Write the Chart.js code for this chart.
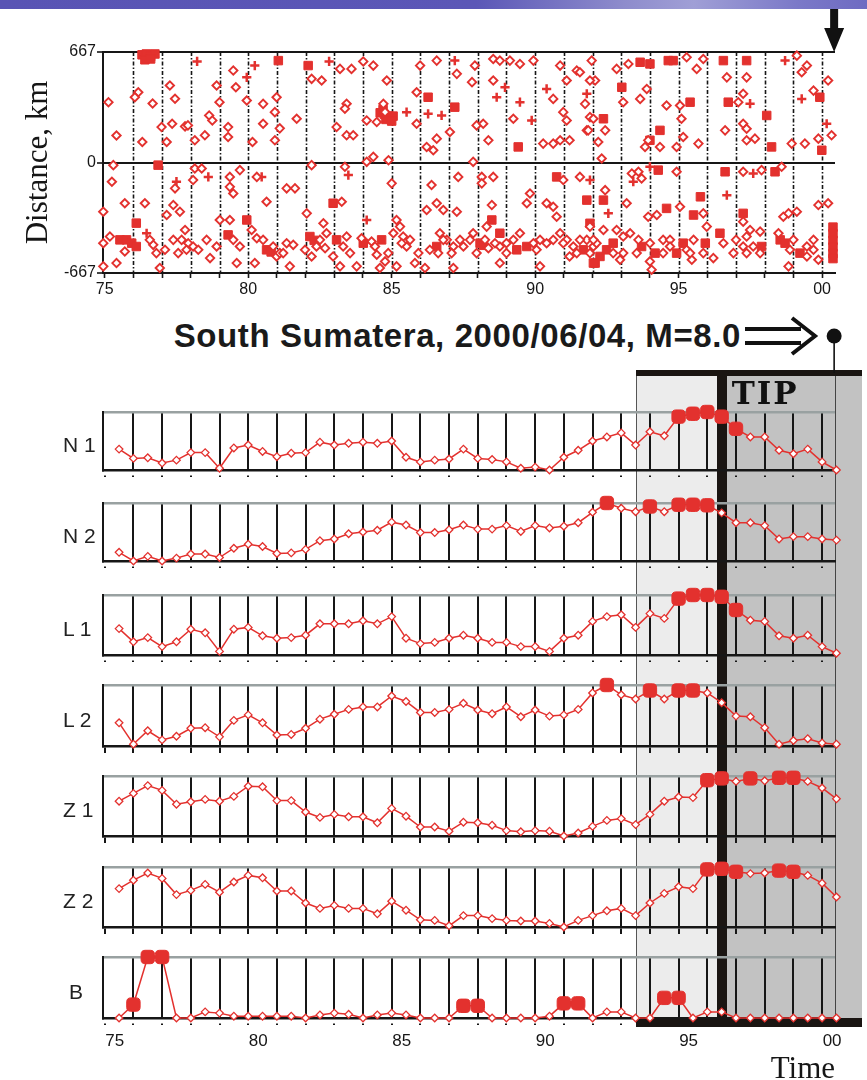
<!DOCTYPE html>
<html>
<head>
<meta charset="utf-8">
<script src="https://cdn.jsdelivr.net/npm/chart.js@4.4.1/dist/chart.umd.min.js"></script>
<style>
  html, body { margin: 0; padding: 0; background: #fff; }
  #page { position: relative; width: 867px; height: 1080px; overflow: hidden; background: #fff;
          font-family: "Liberation Sans", Arial, sans-serif; color: #1a1a1a; }
  #page canvas { position: absolute; left: 0; z-index: 2; }
  .abs { position: absolute; }
</style>
</head>
<body>
<div id="page"></div>
<script>
// ---------------- DATA ----------------
const tickYears = [75,76,77,78,79,80,81,82,83,84,85,86,87,88,89,90,91,92,93,94,95,96,97,98,99,100];
const labelYears = [75,80,85,90,95,100];
const labelTexts = ['75','80','85','90','95','00'];
const distanceTicks = [-667, 0, 667];

const eventYear = 100.42;              // South Sumatera, 2000/06/04
const tipStartYear = 96.5;             // TIP declared
const preTipYear = 93.5;               // light-grey pre-alarm start

// Earthquake epicentres: [year, distance km]
const openQuakes = [
 [75.13,364],[75.41,163],[76.17,424],[76.05,394],[76.67,356],[76.31,124],[76.98,214],[77.16,124],[77.27,465],[77.45,385],[77.35,234],[77.8,218],[77.9,224],[78.14,134],[78.49,164],[78.64,284],[78.75,254],[78.9,465],[79.0,364],[79.3,214],[79.3,154],[79.48,555],[79.57,454],[79.95,374],[80.52,354],[80.52,234],[80.15,124],[80.93,134],[80.99,394],[81.1,206],[80.93,304],[81.69,264],
 [75.3,-16],[75.25,-116],[74.95,-297],[75.7,-246],[76.4,-246],[75.18,-447],[74.95,-487],[75.7,-537],[75.41,-607],[74.95,-627],[76.69,-497],[76.8,-547],[76.92,-637],[77.45,-156],[77.39,-257],[77.16,-317],[77.62,-297],[77.1,-527],[77.39,-467],[77.68,-467],[77.91,-487],[78.08,-507],[77.8,-407],[77.56,-547],[78.14,-36],[78.38,-36],[78.08,-106],[78.26,-527],[78.67,-577],[79.01,-347],[79.36,-347],[79.36,-87],[79.36,-147],[79.48,-187],[79.71,-46],[80.12,-407],[80.3,-457],[79.6,-607],[80.23,-607],[80.64,-237],[80.3,-87],[80.99,-567],[81.1,-547],[81.34,-487],[81.57,-497],[81.34,-156],[81.63,-156],[81.45,-627],
 [76.57,-467],[77.85,-527],[78.55,-467],[78.9,-507],[79.48,-467],[79.71,-507],[80.52,-467],[80.87,-507],[81.22,-547],
 [82.21,505],[82.56,495],[83.2,565],[83.6,565],[83.43,355],[83.37,325],[83.43,164],[83.66,164],[83.08,214],[84.01,610],[84.36,585],[84.13,254],[84.48,244],[84.77,304],[84.71,354],[84.83,495],[84.89,14],[84.36,34],[84.13,4],[85.99,585],[85.87,424],[85.87,234],[86.22,94],[86.45,74],[86.57,144],[86.57,615],[87.27,535],[87.03,184],[87.8,485],[87.9,585],[87.96,224],[88.19,234],[88.37,134],[88.54,625],[88.77,615],[89.12,615],[89.47,595],[88.54,495],[89.24,264],[89.94,615],[90.63,384],[90.28,114],[90.63,114],[90.87,134],[91.2,134],[91.1,495],[90.87,585],[91.45,555],[90.98,304],[91.1,254],[91.8,194],[91.91,274],[91.74,354],[91.97,615],[92.09,495],
 [82.21,-16],[83.37,-26],[83.26,-237],[82.04,-307],[82.62,-367],[82.73,-427],[82.38,-507],[82.21,-567],[83.31,-507],[82.96,-567],[83.2,-627],[83.78,-627],[83.95,-457],[84.3,-477],[84.48,-557],[84.77,-597],[84.59,-637],[85.0,-126],[85.17,-347],[85.29,-387],[85.4,-447],[85.52,-507],[85.06,-427],[85.17,-627],[85.81,-607],[86.16,-637],[86.39,-136],[86.22,-287],[86.57,-246],[86.8,-287],[87.27,-297],[87.32,-87],[86.33,-527],[86.68,-427],[86.92,-467],[87.15,-507],[87.09,-547],[87.38,-467],[87.15,-637],[87.84,4],[88.14,-87],[88.54,-87],[88.14,-126],[88.49,-257],[88.31,-387],[87.84,-427],[88.37,-517],[88.77,-507],[89.0,-547],[88.77,-607],[89.24,-467],[89.47,-427],[90.05,-527],[90.17,-467],[90.4,-487],[89.82,-187],[89.71,-246],[90.4,-246],[90.63,-267],[90.75,-327],[90.98,-106],[90.87,-427],[91.1,-467],[91.33,-507],[91.2,-567],[91.45,-547],[91.91,-387],[91.8,-467],[92.03,-507],[90.17,-627],
 [81.98,-527],[82.5,-467],[82.68,-517],[83.43,-447],[83.55,-547],[84.42,-507],[84.88,-547],[85.35,-487],[85.64,-467],[85.93,-547],[86.62,-547],[86.8,-467],[87.5,-507],[87.73,-467],[87.96,-547],[88.25,-467],[88.6,-487],[89.0,-487],[89.94,-487],[90.63,-467],[90.98,-487],[91.56,-467],[91.91,-547],
 [91.56,545],[91.91,495],[92.03,264],[91.85,194],[92.44,194],[92.2,124],[92.32,24],[92.84,565],[93.25,595],[93.07,364],[93.66,384],[93.89,444],[93.94,134],[93.83,94],[94.35,94],[94.58,344],[95.05,344],[95.1,264],[95.16,154],[94.93,94],[95.63,565],[95.28,635],[95.69,114],[95.86,625],[96.68,514],[97.08,364],[96.62,194],[97.37,514],[97.25,415],[97.25,234],[97.37,204],[97.37,134],[97.66,144],[99.12,645],[99.47,585],[99.29,545],[99.7,434],[99.4,114],[98.94,114],[99.87,144],[100.33,164],[100.21,495],
 [91.56,-87],[92.44,-167],[92.38,-407],[92.14,-487],[92.72,-547],[92.96,-587],[92.84,-407],[93.07,-447],[93.31,-427],[93.6,-467],[94.0,-487],[94.0,-597],[94.06,-647],[93.19,-246],[93.37,-66],[93.6,-56],[93.71,-96],[93.94,-327],[94.24,-317],[94.93,-56],[94.46,-467],[94.7,-467],[95.28,-527],[95.46,-587],[95.52,-467],[95.05,-267],[95.86,-307],[95.98,-387],[95.86,-547],[96.21,-577],[96.56,-487],[96.91,-547],[97.25,-56],[97.89,-46],[97.25,-357],[97.49,-407],[97.37,-447],[97.25,-507],[97.37,-547],[97.84,-417],[97.84,-547],[98.59,-26],[98.48,-427],[98.65,-327],[98.83,-307],[99.12,-297],[98.88,-527],[99.47,-507],[99.7,-467],[99.87,-587],[98.83,-627],[99.87,-257],[100.21,-246],
 [92.03,-467],[93.07,-547],[93.54,-547],[94.46,-547],[94.7,-507],[95.4,-547],[97.0,-467],[97.6,-507],[99.0,-467],[99.47,-567],[99.7,-527]
];
const plusQuakes = [
 [78.22,610],[79.95,514],[82.82,610],[85.52,304],[86.27,294],[86.74,284],[87.2,615],[88.66,394],[88.95,454],[89.47,364],[89.88,254],[90.4,444],[91.8,415],[97.49,355],[98.71,615],[99.29,384],[100.16,234],[80.23,585],
 [76.46,-427],[77.5,-116],[83.49,-76],[84.13,-347],[91.91,-106],[92.55,-307],[93.42,-116],[94.0,-26],[96.68,-197],[97.6,-66],[80.47,-87],[78.61,-87]
];
const filledQuakes = [
 [76.3,650],[76.45,655],[76.6,640],[76.75,655],[76.4,620],[76.6,625],[81.05,615],[82.09,585],[84.6,300],[84.75,290],[84.9,280],[85.05,280],[84.8,260],[85.0,250],[84.7,320],[86.27,394],[87.2,334],[89.41,94],[92.38,264],
 [93.66,605],[94.0,595],[93.02,454],[94.0,134],[94.35,194],[94.64,615],[94.81,615],[95.4,364],[96.56,615],[96.73,364],[97.37,615],[98.07,284],[98.24,94],[99.92,394],[99.99,74],
 [76.1,-366],[75.53,-467],[75.76,-467],[75.94,-487],[76.1,-507],[76.86,-16],[79.3,-437],[79.95,-347],[80.64,-527],[80.8,-540],[82.96,-246],[82.15,-447],[82.3,-470],[83.08,-467],[84.01,-487],[84.65,-467],[86.57,-507],[88.49,-347],[88.77,-427],[88.08,-487],[88.2,-500],[89.36,-527],[89.71,-507],[90.75,-87],[92.09,-607],
 [91.8,-227],[92.38,-227],[91.91,-367],[91.68,-527],[92.26,-567],[92.49,-527],[92.72,-487],[92.03,-607],[93.71,-507],[94.18,-547],[94.29,-46],[94.58,-277],[94.93,-547],[95.16,-487],[95.52,-317],[95.76,-207],[95.93,-487],[96.44,-427],[96.62,-56],[97.25,-307],[97.89,-507],[98.36,-56],[98.54,-467],[98.71,-487],[99.23,-547],
 [100.38,-390],[100.38,-430],[100.38,-470],[100.38,-510],[100.38,-550],[100.38,-580]
];

// Functions of the M8 algorithm (normalised 0..1 within each panel), every half year
const years = [75.5,76,76.5,77,77.5,78,78.5,79,79.5,80,80.5,81,81.5,82,82.5,83,83.5,84,84.5,85,85.5,86,86.5,87,87.5,88,88.5,89,89.5,90,90.5,91,91.5,92,92.5,93,93.5,94,94.5,95,95.5,96,96.5,97,97.5,98,98.5,99,99.5,100,100.5];
const n1Values = [.36,.20,.21,.12,.17,.30,.30,.03,.38,.43,.32,.23,.29,.30,.48,.43,.46,.48,.46,.50,.22,.14,.17,.19,.36,.20,.18,.14,.03,.05,0,.22,.34,.50,.57,.64,.43,.66,.59,.92,.97,1,.92,.71,.57,.57,.34,.28,.36,.14,0];
const n2Values = [.15,0,.08,0,.05,.12,.12,.06,.22,.29,.25,.13,.14,.20,.35,.38,.47,.50,.53,.67,.62,.49,.49,.54,.62,.55,.55,.61,.51,.61,.57,.60,.66,.84,1,.91,.85,.94,.85,.97,.97,.96,.83,.66,.66,.61,.38,.42,.42,.38,.36];
const l1Values = [.44,.22,.29,.14,.22,.43,.37,.06,.43,.46,.32,.28,.29,.33,.52,.52,.52,.57,.52,.64,.28,.19,.21,.28,.33,.28,.21,.21,.14,.14,.06,.28,.33,.56,.64,.67,.46,.69,.61,.94,1,1,.97,.75,.58,.56,.32,.28,.33,.14,.03];
const l2Values = [.38,.03,.25,.10,.16,.29,.30,.15,.42,.51,.38,.18,.19,.29,.44,.52,.60,.64,.64,.82,.73,.55,.55,.60,.70,.59,.53,.64,.48,.59,.49,.51,.60,.87,1,.84,.77,.91,.77,.91,.91,.87,.71,.49,.48,.30,.03,.09,.12,.05,.03];
const z1Values = [.58,.71,.84,.76,.53,.57,.61,.58,.66,.83,.82,.59,.59,.40,.31,.36,.32,.32,.22,.46,.33,.15,.15,.08,.23,.22,.18,.09,.07,.09,.08,0,.05,.16,.26,.29,.19,.36,.58,.65,.64,.93,.96,.91,.96,.92,.97,.97,.91,.80,.62];
const z2Values = [.64,.78,.90,.81,.54,.61,.71,.58,.75,.86,.82,.60,.60,.40,.31,.36,.31,.31,.22,.43,.28,.12,.11,.02,.19,.19,.14,.11,.10,.10,.06,0,.11,.19,.27,.31,.19,.40,.56,.67,.64,.96,.97,.92,.89,.90,.94,.92,.86,.73,.50];
const bValues  = [0,.22,1,1,0,0,.10,.08,.03,.03,.03,.03,.03,0,.05,.08,.06,0,.05,.08,.05,0,0,0,.20,.20,0,0,0,0,.03,.24,.24,0,.10,.10,0,0,.33,.33,0,.10,.10,0,0,0,0,0,0,0,0];

// Half-years where the function is "very large" (filled markers)
const n1Alarms = [95,95.5,96,96.5,97];
const n2Alarms = [92.5,94,95,95.5,96];
const l1Alarms = [95,95.5,96,96.5,97];
const l2Alarms = [92.5,94,95,95.5];
const z1Alarms = [96,96.5,97.5,98.5,99];
const z2Alarms = [96,96.5,97,98.5,99];
const bAlarms  = [76,76.5,77,87.5,88,91,91.5,94.5,95];

const panelNames = ['N 1','N 2','L 1','L 2','Z 1','Z 2','B'];

// ---------------- LAYOUT / STYLE ----------------
const RED = '#e3312e';
const INK = '#161616';
const X_MIN = 74.94, X_MAX = 100.45;
const PAGE_W = 867, PLOT_LEFT = 103, PLOT_RIGHT = 835;
const panelTops    = [412, 503, 595, 685, 776, 867, 957];
const panelBottoms = [470, 561, 655, 746, 836, 927, 1018];
const panelDotTicks = [true, true, true, false, false, false, true];
const panelLabelLeft = [63, 63, 63, 63, 63, 63, 69];

const page = document.getElementById('page');
function el(tag, css, html) {
  const e = document.createElement(tag);
  e.className = 'abs';
  Object.assign(e.style, css);
  if (html !== undefined) e.innerHTML = html;
  page.appendChild(e);
  return e;
}
function yearLabel(v) {
  const k = labelYears.indexOf(v);
  return k >= 0 ? labelTexts[k] : '';
}
function setYearTicks(s) { s.ticks = tickYears.map(v => ({ value: v })); }

// top blue strip
el('div', { left: '0px', top: '0px', width: PAGE_W + 'px', height: '9px', zIndex: 5,
  background: 'linear-gradient(90deg,#5954b4 0%,#5b57b7 55%,#8e8ccc 72%,#a09fd6 80%,#7b79c8 92%,#6e6bc2 100%)' });

// ---------------- TOP: distance-time scatter ----------------
const dashedYears = {
  id: 'dashedYears',
  beforeDatasetsDraw(chart) {
    const { ctx, chartArea, scales } = chart;
    ctx.save();
    ctx.strokeStyle = INK; ctx.lineWidth = 1.6; ctx.setLineDash([4, 2, 1.5, 2]);
    tickYears.filter(v => v > 75).forEach(v => {
      const px = Math.round(scales.x.getPixelForValue(v)) + 0.5;
      ctx.beginPath(); ctx.moveTo(px, chartArea.top); ctx.lineTo(px, chartArea.bottom); ctx.stroke();
    });
    ctx.restore();
  }
};

const topCanvas = document.createElement('canvas');
topCanvas.width = PAGE_W; topCanvas.height = 270; topCanvas.style.top = '40px';
page.appendChild(topCanvas);
const toPts = arr => arr.map(p => ({ x: p[0], y: p[1] }));
const quakeChart = new Chart(topCanvas, {
  type: 'scatter',
  data: { datasets: [
    { data: toPts(openQuakes), pointStyle: 'rectRot', pointRadius: 4.2, pointBorderWidth: 1.9,
      pointBorderColor: RED, pointBackgroundColor: '#fff', clip: false },
    { data: toPts(plusQuakes), pointStyle: 'cross', pointRadius: 4.6, pointBorderWidth: 2.5,
      pointBorderColor: RED, pointBackgroundColor: RED, clip: false },
    { data: toPts(filledQuakes), pointStyle: 'rect', pointRadius: 6, pointBorderWidth: 1,
      pointBorderColor: RED, pointBackgroundColor: RED, clip: false }
  ] },
  options: {
    responsive: false, animation: false, devicePixelRatio: 1,
    layout: { padding: { top: 12, left: 0, right: PAGE_W - PLOT_RIGHT, bottom: 0 } },
    plugins: { legend: { display: false }, tooltip: { enabled: false } },
    scales: {
      x: {
        type: 'linear', min: X_MIN, max: X_MAX,
        afterBuildTicks: setYearTicks,
        ticks: { autoSkip: false, maxRotation: 0, callback: v => yearLabel(v), color: INK,
                 font: { family: '"Liberation Sans", Arial', size: 16 }, padding: 2, includeBounds: false },
        grid: { drawOnChartArea: false, drawTicks: true, tickLength: 5, tickColor: INK, tickWidth: 1.6 },
        border: { color: INK, width: 2 },
        afterFit: s => { s.height = 37; }
      },
      y: {
        min: -667, max: 667,
        afterBuildTicks: s => { s.ticks = distanceTicks.map(v => ({ value: v })); },
        ticks: { callback: v => String(v), color: INK, font: { family: '"Liberation Sans", Arial', size: 16 }, padding: 1 },
        grid: { color: INK, lineWidth: 2, tickLength: 6, tickWidth: 1.6 },
        border: { color: INK, width: 2 },
        title: { display: true, text: 'Distance, km', color: INK,
                 font: { family: '"Liberation Serif", "Times New Roman", serif', size: 31 }, padding: { top: 20 } },
        afterFit: s => { s.width = PLOT_LEFT; }
      }
    }
  },
  plugins: [dashedYears]
});

// ---------------- LOWER PANELS ----------------
const panelValues = [n1Values, n2Values, l1Values, l2Values, z1Values, z2Values, bValues];
const panelAlarms = [n1Alarms, n2Alarms, l1Alarms, l2Alarms, z1Alarms, z2Alarms, bAlarms];

function buildPanel(i) {
  const isLast = i === panelNames.length - 1;
  const padTop = 10;
  const axisH = isLast ? 70 : 12;
  const c = document.createElement('canvas');
  c.width = PAGE_W;
  c.height = padTop + (panelBottoms[i] - panelTops[i]) + axisH;
  c.style.top = (panelTops[i] - padTop) + 'px';
  page.appendChild(c);
  const vals = panelValues[i];
  const alarm = years.map(y => panelAlarms[i].includes(y));
  return new Chart(c, {
    type: 'line',
    data: { datasets: [{
      data: years.map((x, j) => ({ x: x, y: vals[j] })),
      borderColor: RED, borderWidth: 1.5, tension: 0, clip: false, fill: false,
      pointStyle: alarm.map(a => a ? 'rectRounded' : 'rectRot'),
      pointRadius: alarm.map(a => a ? 7.8 : 3.8),
      pointBorderWidth: alarm.map(a => a ? 1 : 1.3),
      pointBorderColor: RED,
      pointBackgroundColor: alarm.map(a => a ? RED : '#fff')
    }] },
    options: {
      responsive: false, animation: false, devicePixelRatio: 1,
      layout: { padding: { top: padTop, left: 0, right: PAGE_W - PLOT_RIGHT, bottom: 0 } },
      plugins: { legend: { display: false }, tooltip: { enabled: false } },
      scales: {
        x: {
          type: 'linear', min: X_MIN, max: X_MAX,
          afterBuildTicks: setYearTicks,
          ticks: { display: isLast, autoSkip: false, maxRotation: 0, callback: v => yearLabel(v),
                   color: INK, font: { family: '"Liberation Sans", Arial', size: 17 }, padding: 6,
                   labelOffset: 10, includeBounds: false },
          grid: { color: ctx => (ctx.tick && ctx.tick.value === 75) ? 'rgba(0,0,0,0)' : INK,
                  lineWidth: 2, tickColor: INK, tickWidth: 2, tickLength: 7,
                  tickBorderDash: panelDotTicks[i] ? [0, 4, 2.5, 30] : [] },
          border: { color: INK, width: 2.5 },
          title: isLast ? { display: true, text: 'Time', align: 'end', color: INK,
                   font: { family: '"Liberation Serif", "Times New Roman", serif', size: 31 },
                   padding: { top: 0, bottom: 0 } } : { display: false },
          afterFit: s => { s.height = axisH; }
        },
        y: {
          min: 0, max: 1,
          afterBuildTicks: s => { s.ticks = [{ value: 0 }, { value: 1 }]; },
          ticks: { display: false },
          grid: { color: ctx => (ctx.tick && ctx.tick.value === 1) ? '#99a1a1' : 'rgba(0,0,0,0)',
                  lineWidth: 2.5, drawTicks: false },
          border: { color: INK, width: 2 },
          afterFit: s => { s.width = PLOT_LEFT; }
        }
      }
    }
  });
}
const panelCharts = panelNames.map((n, i) => buildPanel(i));

panelNames.forEach((name, i) => {
  const mid = (panelTops[i] + panelBottoms[i]) / 2 + 4;
  el('div', { left: panelLabelLeft[i] + 'px', top: (mid - 13) + 'px', height: '26px', lineHeight: '26px',
    fontSize: '21px', color: '#222', whiteSpace: 'pre', zIndex: 3 }, name);
});

// ---------------- TIP shading & annotations (positions from the Chart.js x scale) ----------------
const xs = panelCharts[0].scales.x;
const px = v => xs.getPixelForValue(v);
const area = panelCharts[0].chartArea;
const shadeTop = 373, shadeBottom = 1025, shadeRight = 862;
const xPre = px(preTipYear), xTip = px(tipStartYear), xEvt = px(eventYear);

el('div', { left: xPre + 'px', top: shadeTop + 'px', width: (xTip - xPre) + 'px', height: (shadeBottom - shadeTop) + 'px',
  background: '#ececec', borderLeft: '1.5px solid #555', boxSizing: 'border-box', zIndex: 1 });
el('div', { left: xTip + 'px', top: shadeTop + 'px', width: (shadeRight - xTip) + 'px', height: (shadeBottom - shadeTop) + 'px',
  background: '#c2c2c2', zIndex: 1 });
el('div', { left: (area.right - 0.5) + 'px', top: shadeTop + 'px', width: '1.5px', height: (shadeBottom - shadeTop) + 'px',
  background: '#444', zIndex: 1 });
el('div', { left: (xTip - 5) + 'px', top: shadeTop + 'px', width: '10px', height: (shadeBottom - shadeTop) + 'px',
  background: '#1a1512', zIndex: 1 });
el('div', { left: xPre + 'px', top: (shadeTop - 3) + 'px', width: (shadeRight - xPre) + 'px', height: '6px',
  background: '#1a1512', zIndex: 3 });
el('div', { left: xPre + 'px', top: '1018px', width: (shadeRight - xPre) + 'px', height: '9px',
  background: '#1a1512', zIndex: 1 });
el('div', { left: (xTip + 10) + 'px', top: '375px', fontFamily: '"DejaVu Serif", "Liberation Serif", serif',
  fontWeight: 'bold', fontSize: '31px', letterSpacing: '2px', lineHeight: '36px', color: '#111', zIndex: 3 }, 'TIP');

// Title line with arrow and event dot
el('div', { right: (PAGE_W - 741) + 'px', top: '316px', fontWeight: 'bold', fontSize: '33px', lineHeight: '40px',
  whiteSpace: 'nowrap', color: '#1a1a1a', letterSpacing: '0.6px', zIndex: 3 }, 'South Sumatera, 2000/06/04, M=8.0');

const svgNS = 'http://www.w3.org/2000/svg';
const svg = document.createElementNS(svgNS, 'svg');
svg.setAttribute('width', PAGE_W); svg.setAttribute('height', '1080');
Object.assign(svg.style, { position: 'absolute', left: '0px', top: '0px', zIndex: 4, pointerEvents: 'none' });
svg.innerHTML =
  `<path d="M745 329 H801 M745 343 H801" stroke="#111" stroke-width="4" fill="none"/>` +
  `<path d="M792 318 L815 336 L792 354" stroke="#111" stroke-width="4" fill="none" stroke-linejoin="miter"/>` +
  `<line x1="${xEvt}" y1="340" x2="${xEvt}" y2="${shadeTop}" stroke="#111" stroke-width="1.6"/>` +
  `<circle cx="${xEvt}" cy="336" r="7.5" fill="#111"/>` +
  `<polygon points="${xEvt-4},9 ${xEvt+4},9 ${xEvt+4},28 ${xEvt+10},28 ${xEvt},52 ${xEvt-10},28 ${xEvt-4},28" fill="#111"/>`;
page.appendChild(svg);
</script>
</body>
</html>
